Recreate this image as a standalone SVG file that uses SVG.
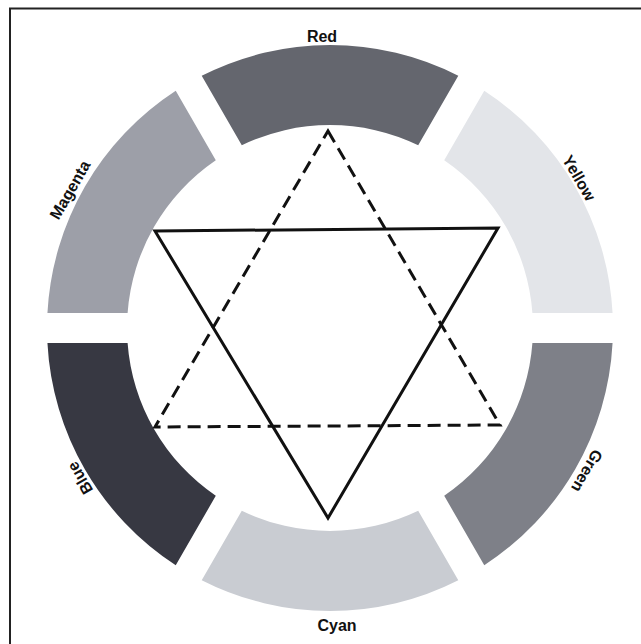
<svg xmlns="http://www.w3.org/2000/svg" xmlns:xlink="http://www.w3.org/1999/xlink" width="641" height="644" viewBox="0 0 641 644">
<style>
.lbl{font-family:"Liberation Sans",Arial,sans-serif;font-weight:bold;font-size:16px;fill:#111;text-anchor:middle;dominant-baseline:central}
.tri{fill:none;stroke:#111;stroke-width:3;stroke-linejoin:miter}
.dash{stroke-dasharray:13 7}
.frame{stroke:#222;stroke-width:2;fill:none}
</style>
<defs>
<path id="seg" d="M -128.3 -252.2 A 283 283 0 0 1 128.3 -252.2 L 88.2 -182.8 A 203 203 0 0 0 -88.2 -182.8 Z"/>
</defs>
<rect width="641" height="644" fill="#fff"/>
<path class="frame" d="M 10 644 L 10 8.5 L 641 8.5"/>
<g id="red"><use xlink:href="#seg" transform="translate(330 328) rotate(0)" fill="#64666e"/><text class="lbl" transform="translate(322 36)">Red</text></g>
<g id="yellow"><use xlink:href="#seg" transform="translate(330 328) rotate(60)" fill="#e3e5e9"/><text class="lbl" transform="translate(579 178) rotate(60)">Yellow</text></g>
<g id="green"><use xlink:href="#seg" transform="translate(330 328) rotate(120)" fill="#7e8088"/><text class="lbl" transform="translate(587 471) rotate(120)">Green</text></g>
<g id="cyan"><use xlink:href="#seg" transform="translate(330 328) rotate(180)" fill="#c9ccd2"/><text class="lbl" transform="translate(337 625)">Cyan</text></g>
<g id="blue"><use xlink:href="#seg" transform="translate(330 328) rotate(240)" fill="#373842"/><text class="lbl" transform="translate(80 478) rotate(240)">Blue</text></g>
<g id="magenta"><use xlink:href="#seg" transform="translate(330 328) rotate(300)" fill="#9d9fa8"/><text class="lbl" transform="translate(70 190) rotate(300)">Magenta</text></g>
<g id="connectors">
<path class="tri dash" d="M 328 131 L 500 425 L 155 427 Z"/>
<path class="tri" d="M 155 231 L 498 228 L 328 518 Z"/>
</g>
</svg>
